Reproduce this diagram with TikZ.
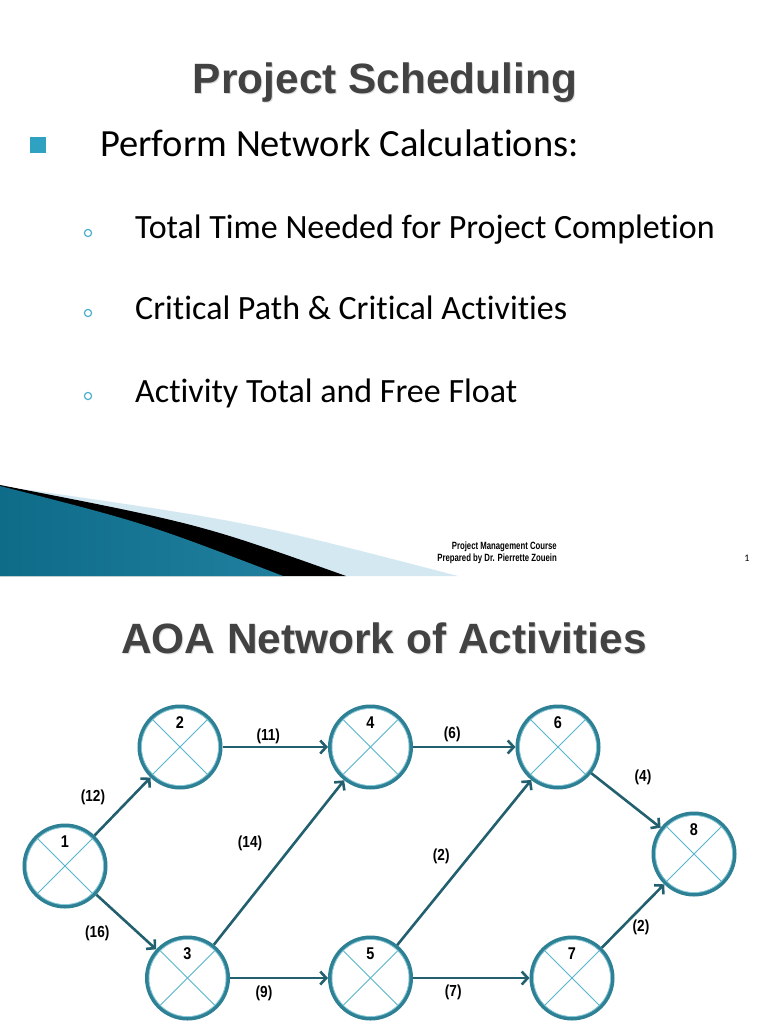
\documentclass[tikz,border=0pt]{standalone}
\usepackage{fontspec}
\setmainfont{Carlito}[Ligatures=NoCommon]
\newfontfamily\headfont{Liberation Sans}
\newfontfamily\narrowfont{Liberation Sans}[FakeStretch=0.85]
\newfontfamily\footfont{Liberation Sans}[FakeStretch=0.74]
\usetikzlibrary{arrows.meta,positioning,calc}

\definecolor{ringteal}{HTML}{2E8094}
\definecolor{ringpale}{HTML}{86C8D8}
\definecolor{crossteal}{HTML}{55B5CC}
\definecolor{arrowteal}{HTML}{22606F}
\definecolor{headgray}{HTML}{424242}
\definecolor{bulletblue}{HTML}{2FA2C2}
\definecolor{swooshdark}{HTML}{0E6C89}
\definecolor{swooshlight}{HTML}{55B9DC}
\definecolor{swooshpale}{HTML}{D4E8F1}

\tikzset{
  event/.style={circle, draw=ringteal, line width=4pt, minimum size=81pt, inner sep=0pt, fill=white},
  evnum/.style={font=\narrowfont\bfseries\fontsize{17}{17}\selectfont, inner sep=0pt},
  act/.style={draw=arrowteal, line width=2.6pt, -{Straight Barb[length=6pt,width=13pt]}},
  dur/.style={font=\narrowfont\bfseries\fontsize{16}{16}\selectfont, inner sep=0pt, anchor=center},
  heading/.style={font=\headfont\bfseries\fontsize{42.4}{42.4}\selectfont, anchor=base, inner sep=0pt},
  bigitem/.style={font=\fontsize{38.5}{38.5}\selectfont, anchor=base west, inner sep=0pt},
  subitem/.style={font=\fontsize{34}{34}\selectfont, anchor=base west, inner sep=0pt},
  foot/.style={font=\footfont\bfseries\fontsize{10.5}{10.5}\selectfont, anchor=east, inner sep=0pt}
}

\begin{document}
\begin{tikzpicture}[x=1pt, y=-1pt]
  \fill[white] (0,0) rectangle (768,1024);
  \useasboundingbox (0,0) rectangle (768,1024);

  % slide 1
  \node[heading, text=gray!30] (title1s) at (386,95) {Project Scheduling};
  \node[heading, text=headgray] (title1) at (385,94) {Project Scheduling};
  \fill[bulletblue] (30,137) rectangle (46,153);
  \node[bigitem] (calc) at (100,157) {Perform Network Calculations:};
  \foreach \y/\txt [count=\i] in {239/Total Time Needed for Project Completion,
                                  319/Critical Path \& Critical Activities,
                                  402/Activity Total and Free Float} {
    \draw[bulletblue!85, line width=1.2pt] (88,\y-6) circle (3.6);
    \node[subitem] (item\i) at (135,\y) {\txt};
  }

  % swoosh
  \fill[swooshpale] (30,490) .. controls (250,522) .. (458,576) -- (0,576) -- (0,488) -- cycle;
  \fill[black] (0,485) .. controls (200,524) .. (346,576) -- (0,576) -- cycle;
  \shade[left color=swooshdark, middle color=swooshlight, right color=swooshdark!75!swooshlight]
    (0,486) .. controls (145,523) .. (283,576) -- (0,576) -- cycle;
  \node[foot] (course) at (557,547) {Project Management Course};
  \node[foot] (author) at (557,559) {Prepared by Dr. Pierrette Zouein};
  \node[font=\fontsize{10}{10}\selectfont, inner sep=0pt] (page) at (747,558) {1};

  % slide 2
  \node[heading, text=gray!30] (title2s) at (385,654) {AOA Network of Activities};
  \node[heading, text=headgray] (title2) at (384,653) {AOA Network of Activities};

  \node[event] (n1) at (65,866) {};
  \node[event] (n2) at (180,747) {};
  \node[event] (n3) at (187.5,978) {};
  \node[event] (n4) at (370.5,747) {};
  \node[event] (n5) at (370.5,978) {};
  \node[event] (n6) at (558,747) {};
  \node[event] (n7) at (572,978) {};
  \node[event] (n8) at (694,854) {};

  \foreach \n in {1,...,8} {
    \draw[ringpale, line width=0.8pt] (n\n.center) circle (38.6);
    \draw[crossteal, line width=0.8pt] ([shift={(-27,-27)}]n\n.center) -- ([shift={(27,27)}]n\n.center);
    \draw[crossteal, line width=0.8pt] ([shift={(-27,27)}]n\n.center) -- ([shift={(27,-27)}]n\n.center);
    \node[evnum] (t\n) at ([yshift=24pt]n\n.center) {\n};
  }

  \draw[act] (n1) -- node[dur, xshift=-29.5pt, yshift=9.5pt] (d12) {(12)} (n2);
  \draw[act] (n1) -- node[dur, xshift=-29pt, yshift=-11pt] (d13) {(16)} (n3);
  \draw[act] (n2) -- node[dur, xshift=-7pt, yshift=11pt] (d24) {(11)} (n4);
  \draw[act] (n3) -- node[dur, xshift=-29pt, yshift=19.5pt] (d34) {(14)} (n4);
  \draw[act] (n3) -- node[dur, xshift=-15pt, yshift=-15pt] (d35) {(9)} (n5);
  \draw[act] (n4) -- node[dur, xshift=-12pt, yshift=13pt] (d46) {(6)} (n6);
  \draw[act] (n5) -- node[dur, xshift=-23pt, yshift=6pt] (d56) {(2)} (n6);
  \draw[act] (n5) -- node[dur, xshift=-18pt, yshift=-14.5pt] (d57) {(7)} (n7);
  \draw[act] (n6) -- node[dur, xshift=17pt, yshift=23.5pt] (d68) {(4)} (n8);
  \draw[act] (n7) -- node[dur, xshift=8pt, yshift=-11.5pt] (d78) {(2)} (n8);
\end{tikzpicture}
\end{document}
